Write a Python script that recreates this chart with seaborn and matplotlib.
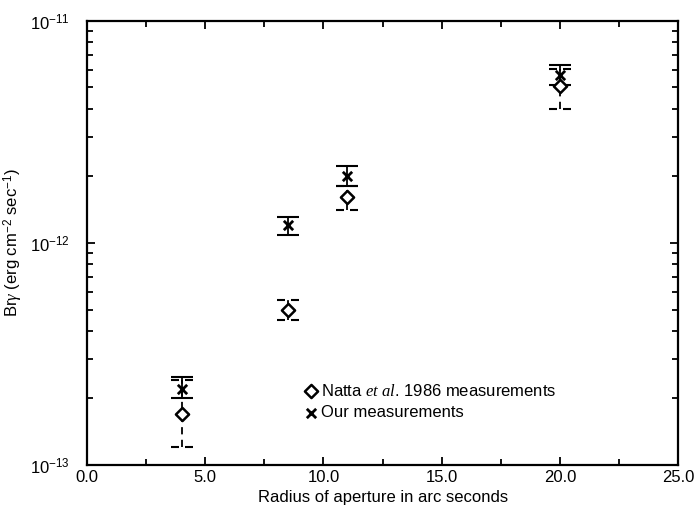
import numpy as np
import matplotlib
matplotlib.use("Agg")
import matplotlib.pyplot as plt
from matplotlib.path import Path
from matplotlib.ticker import MultipleLocator, FormatStrFormatter, FixedLocator, NullFormatter
import seaborn as sns

# --- data ---
radius = [4.0, 8.5, 11.0, 20.0]

natta_flux = [1.7e-13, 5.0e-13, 1.6e-12, 5.05e-12]
natta_lo = [1.2e-13, 4.5e-13, 1.4e-12, 4.0e-12]
natta_hi = [2.4e-13, 5.5e-13, 1.8e-12, 6.05e-12]

our_flux = [2.2e-13, 1.2e-12, 2.0e-12, 5.7e-12]
our_lo = [2.0e-13, 1.08e-12, 1.8e-12, 5.15e-12]
our_hi = [2.48e-13, 1.31e-12, 2.22e-12, 6.3e-12]

y_major = [1e-13, 1e-12, 1e-11]

natta_label = r"Natta $\mathit{et\ al}$. 1986 measurements"
our_label = "Our measurements"

sns.set_style("ticks", {"axes.edgecolor": "black", "text.color": "black",
                        "xtick.color": "black", "ytick.color": "black",
                        "axes.labelcolor": "black"})
plt.rcParams["font.family"] = ["Liberation Sans", "DejaVu Sans"]
plt.rcParams["mathtext.fontset"] = "custom"
plt.rcParams["mathtext.it"] = "Liberation Serif:italic"
plt.rcParams["mathtext.rm"] = "Liberation Sans"

fig = plt.figure(figsize=(6.95, 5.13), dpi=100)
ax = fig.add_axes([0.125, 0.094, 0.851, 0.866])

# our measurements: solid error bars with caps
f = np.array(our_flux)
ax.errorbar(radius, our_flux, yerr=[f - np.array(our_lo), np.array(our_hi) - f],
            fmt="none", ecolor="black", elinewidth=1.3, capsize=8, capthick=1.5)

# Natta: dashed error bars with broken caps
f = np.array(natta_flux)
eb = ax.errorbar(radius, natta_flux, yerr=[f - np.array(natta_lo), np.array(natta_hi) - f],
                 fmt="none", ecolor="black", elinewidth=1.3, capsize=0)
eb[2][0].set_linestyle((0, (4, 3)))
dash_cap = Path([(-1, 0), (-0.3, 0), (0.3, 0), (1, 0)],
                [Path.MOVETO, Path.LINETO, Path.MOVETO, Path.LINETO])
ax.plot(radius, natta_lo, ls="none", marker=dash_cap, ms=16, mew=1.5, color="black")
ax.plot(radius, natta_hi, ls="none", marker=dash_cap, ms=16, mew=1.5, color="black")

sns.scatterplot(x=radius, y=natta_flux, marker="D", s=45, facecolor="white",
                edgecolor="black", linewidth=1.8, label=natta_label, ax=ax, zorder=4)
sns.scatterplot(x=radius, y=our_flux, marker="x", s=45, color="black",
                linewidth=2.0, label=our_label, ax=ax, zorder=5)

ax.set_yscale("log")
ax.set_xlim(0, 25)
ax.set_ylim(1e-13, 1e-11)
ax.xaxis.set_major_locator(MultipleLocator(5))
ax.xaxis.set_minor_locator(MultipleLocator(2.5))
ax.xaxis.set_major_formatter(FormatStrFormatter("%.1f"))
ax.yaxis.set_major_locator(FixedLocator(y_major))
ax.yaxis.set_minor_locator(FixedLocator([m * d for d in y_major[:-1] for m in range(2, 10)]))
ax.yaxis.set_minor_formatter(NullFormatter())
ax.tick_params(which="both", direction="in", top=True, right=True, width=1.3,
               labelsize=12, colors="black")
ax.tick_params(which="major", length=6)
ax.tick_params(which="minor", length=4)
ax.tick_params(axis="y", which="major", pad=12)
for sp in ax.spines.values():
    sp.set_linewidth(1.6)
    sp.set_color("black")

ax.set_xlabel("Radius of aperture in arc seconds", fontsize=12, color="black")
ax.set_ylabel(r"Br$\gamma$ (erg cm$^{-2}$ sec$^{-1}$)", fontsize=12, color="black")
ax.yaxis.set_label_coords(-0.105, 0.5)

ax.legend(loc="upper left", bbox_to_anchor=(0.36, 0.2), frameon=False, fontsize=12,
          handlelength=0.6, handletextpad=0.3, labelspacing=0.4, borderaxespad=0)

fig.savefig("out.png", dpi=100)
